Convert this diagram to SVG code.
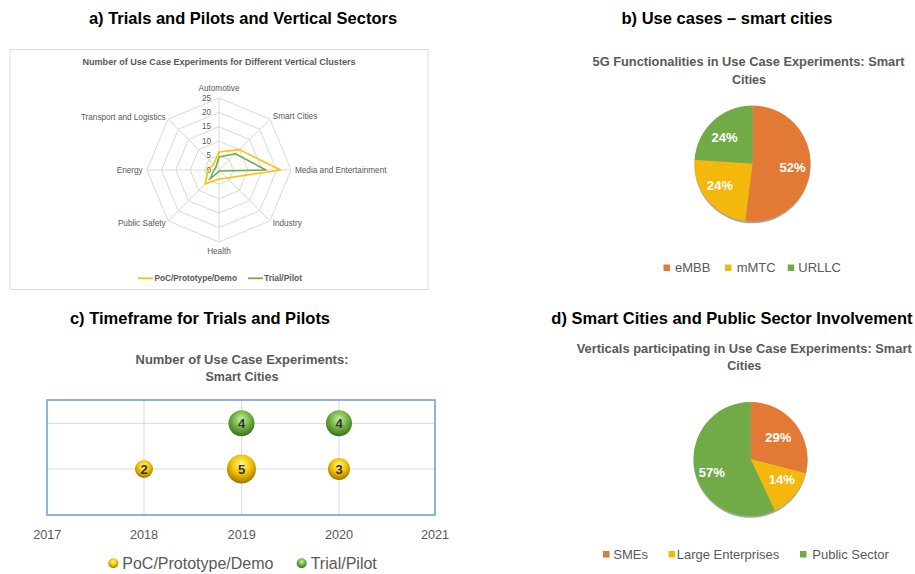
<svg xmlns="http://www.w3.org/2000/svg" width="915" height="574" viewBox="0 0 915 574">
<style>
.h{font-family:"Liberation Sans",Arial,sans-serif;font-weight:bold;font-size:16.5px;fill:#000;text-anchor:middle;dominant-baseline:central}
.ct{font-family:"Liberation Sans",Arial,sans-serif;font-weight:bold;fill:#595959;text-anchor:middle;dominant-baseline:central}
.ax{font-family:"Liberation Sans",Arial,sans-serif;font-size:8.2px;fill:#595959;dominant-baseline:central}
.lg{font-family:"Liberation Sans",Arial,sans-serif;font-size:13px;fill:#595959;dominant-baseline:central}
.pl{font-family:"Liberation Sans",Arial,sans-serif;font-weight:bold;font-size:13px;fill:#fff;text-anchor:middle;dominant-baseline:central}
.bn{font-family:"Liberation Sans",Arial,sans-serif;font-weight:bold;font-size:13px;fill:#333;text-anchor:middle;dominant-baseline:central}
.grid{fill:none;stroke:#d9d9d9;stroke-width:1}
.or{fill:#E27A35}.ye{fill:#F4B80C}.gr{fill:#70AB47}
</style>
<defs>
<radialGradient id="gy" cx="50%" cy="35%" r="65%">
<stop offset="0" stop-color="#FFF7A0"/><stop offset="0.5" stop-color="#F5C300"/><stop offset="1" stop-color="#9C7400"/>
</radialGradient>
<radialGradient id="gg" cx="50%" cy="35%" r="65%">
<stop offset="0" stop-color="#CDEFA0"/><stop offset="0.5" stop-color="#74B644"/><stop offset="1" stop-color="#3A6C1C"/>
</radialGradient>
</defs>
<rect width="915" height="574" fill="#fff"/>

<g id="titles">
<text class="h" x="243" y="18">a) Trials and Pilots and Vertical Sectors</text>
<text class="h" x="727" y="18">b) Use cases – smart cities</text>
<text class="h" x="200" y="318">c) Timeframe for Trials and Pilots</text>
<text class="h" x="732" y="318">d) Smart Cities and Public Sector Involvement</text>
</g>

<g id="radar">
<rect x="10" y="49.5" width="418" height="240" fill="#fff" stroke="#d9d9d9" stroke-width="1"/>
<text class="ct" x="219" y="62" font-size="8.5" textLength="273" lengthAdjust="spacingAndGlyphs">Number of Use Case Experiments for Different Vertical Clusters</text>
<polygon class="grid" points="219,98 269.91,119.09 291,170 269.91,220.91 219,242 168.09,220.91 147,170 168.09,119.09"/>
<polygon class="grid" points="219,112.4 259.73,129.27 276.6,170 259.73,210.73 219,227.6 178.27,210.73 161.4,170 178.27,129.27"/>
<polygon class="grid" points="219,126.8 249.55,139.45 262.2,170 249.55,200.55 219,213.2 188.45,200.55 175.8,170 188.45,139.45"/>
<polygon class="grid" points="219,141.2 239.36,149.64 247.8,170 239.36,190.36 219,198.8 198.64,190.36 190.2,170 198.64,149.64"/>
<polygon class="grid" points="219,155.6 229.18,159.82 233.4,170 229.18,180.18 219,184.4 208.82,180.18 204.6,170 208.82,159.82"/>
<path class="grid" d="M219,170L219,98M219,170L269.91,119.09M219,170L291,170M219,170L269.91,220.91M219,170L219,242M219,170L168.09,220.91M219,170L147,170M219,170L168.09,119.09"/>
<g class="ax" text-anchor="end">
<text x="211" y="98">25</text><text x="211" y="112.4">20</text><text x="211" y="126.8">15</text>
<text x="211" y="141.2">10</text><text x="211" y="155.6">5</text><text x="211" y="170">0</text>
</g>
<polygon points="219,152 239.4,149.6 280.5,170 227,178 219,179 205,184 208,170 213.5,164.5" fill="none" stroke="#FFC000" stroke-width="1.6" stroke-linejoin="round"/>
<polygon points="219,157 235.3,153.7 266,170 220,171 219,171.5 210,179 214,170 216,167" fill="none" stroke="#70AD47" stroke-width="1.6" stroke-linejoin="round"/>
<text class="ax" x="219" y="88.5" text-anchor="middle">Automotive</text>
<text class="ax" x="272.7" y="116.7">Smart Cities</text>
<text class="ax" x="295" y="170">Media and Entertainment</text>
<text class="ax" x="272.7" y="223">Industry</text>
<text class="ax" x="219" y="251" text-anchor="middle">Health</text>
<text class="ax" x="165.7" y="223" text-anchor="end">Public Safety</text>
<text class="ax" x="142.7" y="170" text-anchor="end">Energy</text>
<text class="ax" x="165.7" y="117" text-anchor="end">Transport and Logistics</text>
<line x1="138" y1="278.3" x2="153" y2="278.3" stroke="#FFC000" stroke-width="1.8"/>
<text class="ax" x="154.5" y="278.3" font-weight="bold" textLength="82.5" lengthAdjust="spacingAndGlyphs">PoC/Prototype/Demo</text>
<line x1="248" y1="278.3" x2="263" y2="278.3" stroke="#70AD47" stroke-width="1.8"/>
<text class="ax" x="264" y="278.3" font-weight="bold" textLength="38" lengthAdjust="spacingAndGlyphs">Trial/Pilot</text>
</g>

<g id="pie-functionalities">
<text class="ct" x="748.5" y="61.7" font-size="12.5" textLength="312" lengthAdjust="spacingAndGlyphs">5G Functionalities in Use Case Experiments: Smart</text>
<text class="ct" x="749" y="79.5" font-size="12.5">Cities</text>
<circle cx="752.5" cy="165.3" r="58" fill="#6b5a3a" opacity="0.55"/>
<path class="or" d="M752.5,163.5 L752.5,105.5 A58,58 0 1 1 745.23,221.04 Z"/>
<path class="ye" d="M752.5,163.5 L745.23,221.04 A58,58 0 0 1 694.61,159.86 Z"/>
<path class="gr" d="M752.5,163.5 L694.61,159.86 A58,58 0 0 1 752.5,105.5 Z"/>
<text class="pl" x="792.5" y="167.5">52%</text>
<text class="pl" x="720" y="185.5">24%</text>
<text class="pl" x="724.5" y="137.5">24%</text>
<rect class="or" x="663.5" y="264.5" width="6.5" height="6.5"/>
<text class="lg" x="675" y="267.7">eMBB</text>
<rect class="ye" x="725" y="264.5" width="6.5" height="6.5"/>
<text class="lg" x="736.7" y="267.7">mMTC</text>
<rect class="gr" x="787.7" y="264.5" width="6.5" height="6.5"/>
<text class="lg" x="798.3" y="267.7">URLLC</text>
</g>

<g id="bubble-timeframe">
<text class="ct" x="242" y="359.5" font-size="12.5" textLength="213" lengthAdjust="spacingAndGlyphs">Number of Use Case Experiments:</text>
<text class="ct" x="242" y="377.3" font-size="12.5">Smart Cities</text>
<path d="M47,423.3H435M47,469H435M144,400V515M241.7,400V515M339,400V515" fill="none" stroke="#d9d9d9" stroke-width="1"/>
<rect x="47" y="400" width="388" height="115" fill="none" stroke="#6FA3D8" stroke-width="1.6"/>
<g font-family="'Liberation Sans',Arial,sans-serif" font-size="12.7" fill="#595959" text-anchor="middle" dominant-baseline="central">
<text x="47.3" y="535">2017</text><text x="144" y="535">2018</text><text x="241.7" y="535">2019</text><text x="339" y="535">2020</text><text x="435" y="535">2021</text>
</g>
<g id="b-2018-poc"><circle cx="144" cy="469" r="9" fill="url(#gy)"/><text class="bn" x="144" y="469.5">2</text></g>
<g id="b-2019-poc"><circle cx="241.5" cy="469" r="14.5" fill="url(#gy)"/><text class="bn" x="241.5" y="469.5">5</text></g>
<g id="b-2020-poc"><circle cx="339" cy="469" r="11" fill="url(#gy)"/><text class="bn" x="339" y="469.5">3</text></g>
<g id="b-2019-trial"><circle cx="241.5" cy="423.3" r="13" fill="url(#gg)"/><text class="bn" x="241.5" y="423.8">4</text></g>
<g id="b-2020-trial"><circle cx="339" cy="423.3" r="13" fill="url(#gg)"/><text class="bn" x="339" y="423.8">4</text></g>
<circle cx="113.3" cy="563.3" r="5" fill="url(#gy)"/>
<text font-family="'Liberation Sans',Arial,sans-serif" font-size="16" fill="#595959" x="122.3" y="563.3" dominant-baseline="central">PoC/Prototype/Demo</text>
<circle cx="301.7" cy="563.3" r="5" fill="url(#gg)"/>
<text font-family="'Liberation Sans',Arial,sans-serif" font-size="16" fill="#595959" x="310.7" y="563.3" dominant-baseline="central">Trial/Pilot</text>
</g>

<g id="pie-verticals">
<text class="ct" x="744.2" y="349" font-size="12.5" textLength="335" lengthAdjust="spacingAndGlyphs">Verticals participating in Use Case Experiments: Smart</text>
<text class="ct" x="744.3" y="366" font-size="12.5">Cities</text>
<circle cx="750.5" cy="460.8" r="57" fill="#4f6a3a" opacity="0.55"/>
<path class="or" d="M750.5,459 L750.5,402 A57,57 0 0 1 805.71,473.18 Z"/>
<path class="ye" d="M750.5,459 L805.71,473.18 A57,57 0 0 1 774.77,510.58 Z"/>
<path class="gr" d="M750.5,459 L774.77,510.58 A57,57 0 1 1 750.5,402 Z"/>
<text class="pl" x="778.3" y="437.3">29%</text>
<text class="pl" x="781.7" y="479">14%</text>
<text class="pl" x="711.7" y="472.7">57%</text>
<rect class="or" x="603" y="551" width="6.5" height="6.5"/>
<text class="lg" x="613.3" y="554">SMEs</text>
<rect class="ye" x="668.5" y="551" width="6.5" height="6.5"/>
<text class="lg" x="676.7" y="554">Large Enterprises</text>
<rect class="gr" x="800" y="551" width="6.5" height="6.5"/>
<text class="lg" x="812.3" y="554">Public Sector</text>
</g>
</svg>
